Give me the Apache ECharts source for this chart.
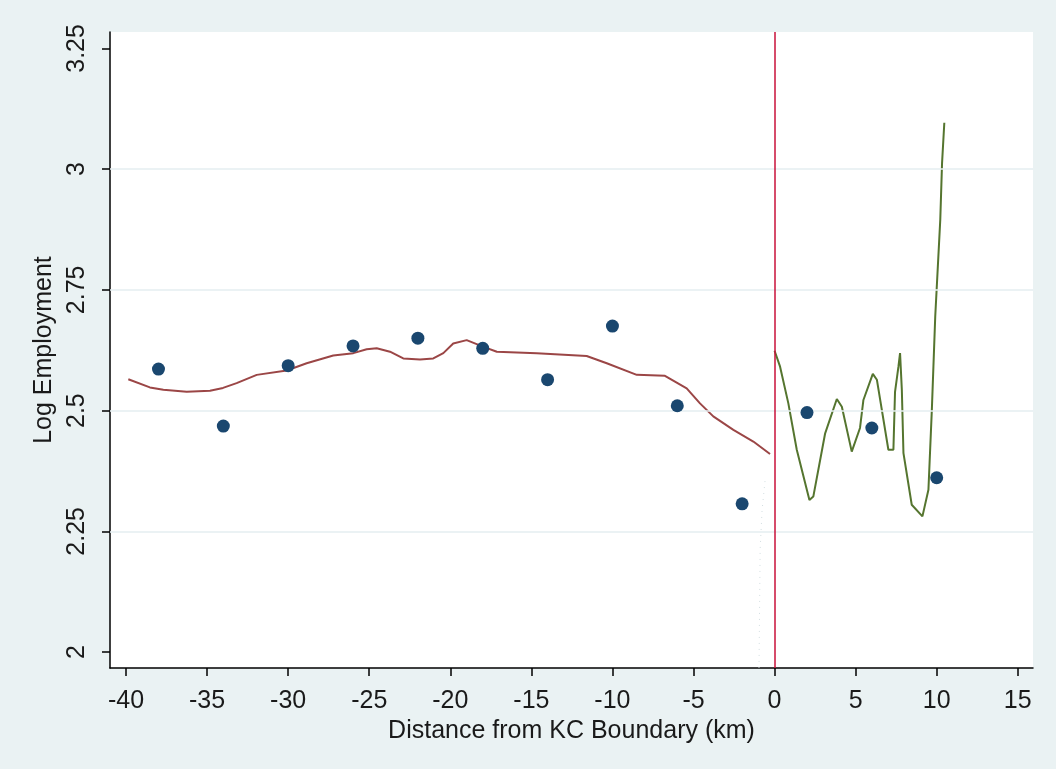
<!DOCTYPE html>
<html>
<head>
<meta charset="utf-8">
<script src="https://cdn.jsdelivr.net/npm/echarts@6/dist/echarts.min.js"></script>
<style>
html,body{margin:0;padding:0;background:#eaf2f3;}
#chart{width:1056px;height:769px;}
</style>
</head>
<body>
<div id="chart"></div>
<script>
// Binned means (dots)
const binX = [-38, -34, -30, -26, -22, -18, -14, -10, -6, -2, 2, 6, 10];
const binY = [2.586, 2.468, 2.593, 2.634, 2.650, 2.629, 2.564, 2.675, 2.510, 2.307, 2.496, 2.464, 2.361];

// Left-side smoothed fit
const leftFitX = [-39.86, -38.53, -37.70, -36.26, -34.82, -34.02, -33.18, -31.94, -30.09, -28.86, -27.22, -25.98, -25.16, -24.54, -23.72, -22.90, -21.87, -21.05, -20.43, -19.82, -18.99, -17.95, -17.13, -14.67, -11.59, -10.35, -8.50, -6.76, -5.42, -4.60, -3.78, -2.54, -1.31, -0.28];
const leftFitY = [2.565, 2.548, 2.543, 2.539, 2.541, 2.547, 2.557, 2.574, 2.583, 2.598, 2.614, 2.619, 2.627, 2.629, 2.622, 2.608, 2.606, 2.608, 2.619, 2.639, 2.646, 2.632, 2.622, 2.619, 2.613, 2.598, 2.574, 2.572, 2.546, 2.515, 2.488, 2.460, 2.436, 2.410];

// Right-side smoothed fit
const rightFitX = [0.0, 0.34, 0.85, 1.37, 2.15, 2.39, 3.12, 3.84, 4.15, 4.76, 5.27, 5.48, 6.06, 6.31, 7.02, 7.33, 7.43, 7.64, 7.74, 7.85, 7.95, 8.46, 9.12, 9.49, 9.70, 9.91, 10.22, 10.33, 10.47];
const rightFitY = [2.624, 2.591, 2.515, 2.419, 2.315, 2.322, 2.453, 2.524, 2.508, 2.415, 2.464, 2.522, 2.576, 2.564, 2.419, 2.419, 2.539, 2.591, 2.619, 2.543, 2.412, 2.305, 2.281, 2.336, 2.501, 2.695, 2.895, 3.012, 3.096];

// Faint dotted trace near the boundary
const faintX = [-0.59, -0.77, -0.89, -0.96];
const faintY = [2.354, 2.294, 2.212, 1.967];

const xTicks = [-40, -35, -30, -25, -20, -15, -10, -5, 0, 5, 10, 15];
const yTicks = [2, 2.25, 2.5, 2.75, 3, 3.25];
const yGrid = [2.25, 2.5, 2.75, 3];
const boundaryX = 0;

const zip = (xs, ys) => xs.map((x, i) => [x, ys[i]]);
const FONT = 'Liberation Sans, Arial, sans-serif';

const chart = echarts.init(document.getElementById('chart'), null, {renderer: 'canvas'});
chart.setOption({
  backgroundColor: '#eaf2f3',
  animation: false,
  grid: {
    left: 110, right: 23, top: 32, bottom: 101,
    show: true, backgroundColor: '#ffffff', borderWidth: 0
  },
  xAxis: {
    type: 'value', min: -40.99, max: 15.94,
    name: 'Distance from KC Boundary (km)',
    nameLocation: 'middle', nameGap: 41,
    nameTextStyle: {fontFamily: FONT, fontSize: 25, color: '#1a1a1a'},
    axisLine: {show: true, onZero: false, lineStyle: {color: '#000', width: 1.5}},
    axisTick: {show: true, length: 8, lineStyle: {color: '#000', width: 1.5}, customValues: xTicks},
    axisLabel: {fontFamily: FONT, fontSize: 25, color: '#1a1a1a', margin: 21, customValues: xTicks},
    splitLine: {show: false}
  },
  yAxis: {
    type: 'value', min: 1.967, max: 3.284,
    name: 'Log Employment',
    nameLocation: 'middle', nameGap: 51,
    nameTextStyle: {fontFamily: FONT, fontSize: 25, color: '#1a1a1a'},
    axisLine: {show: true, onZero: false, lineStyle: {color: '#000', width: 1.5}},
    axisTick: {show: true, length: 8, lineStyle: {color: '#000', width: 1.5}, customValues: yTicks},
    axisLabel: {fontFamily: FONT, fontSize: 25, color: '#1a1a1a', margin: 20, rotate: 90, customValues: yTicks,
      formatter: v => String(v)},
    splitLine: {show: false}
  },
  series: [
    {
      type: 'line', data: [], z: 1, silent: true,
      markLine: {
        silent: true, symbol: 'none', label: {show: false}, animation: false,
        lineStyle: {color: '#e4eef0', width: 1.5, type: 'solid'},
        data: yGrid.map(v => ({yAxis: v}))
      }
    },
    {
      type: 'line', data: zip(faintX, faintY), symbol: 'none', z: 2,
      lineStyle: {color: '#d3dee1', width: 1, type: [1, 5]}
    },
    {
      type: 'line', data: zip(leftFitX, leftFitY), symbol: 'none', z: 3,
      lineStyle: {color: '#9b4646', width: 2}
    },
    {
      type: 'line', data: zip(rightFitX, rightFitY), symbol: 'none', z: 3,
      lineStyle: {color: '#55752f', width: 2}
    },
    {
      type: 'line', data: [], z: 4, silent: true,
      markLine: {
        silent: true, symbol: 'none', label: {show: false}, animation: false,
        lineStyle: {color: '#c8103a', width: 1.5, type: 'solid'},
        data: [{xAxis: boundaryX}]
      }
    },
    {
      type: 'scatter', data: zip(binX, binY), symbol: 'circle', symbolSize: 13, z: 5,
      itemStyle: {color: '#1a476f', opacity: 1}
    }
  ]
});
</script>
</body>
</html>
